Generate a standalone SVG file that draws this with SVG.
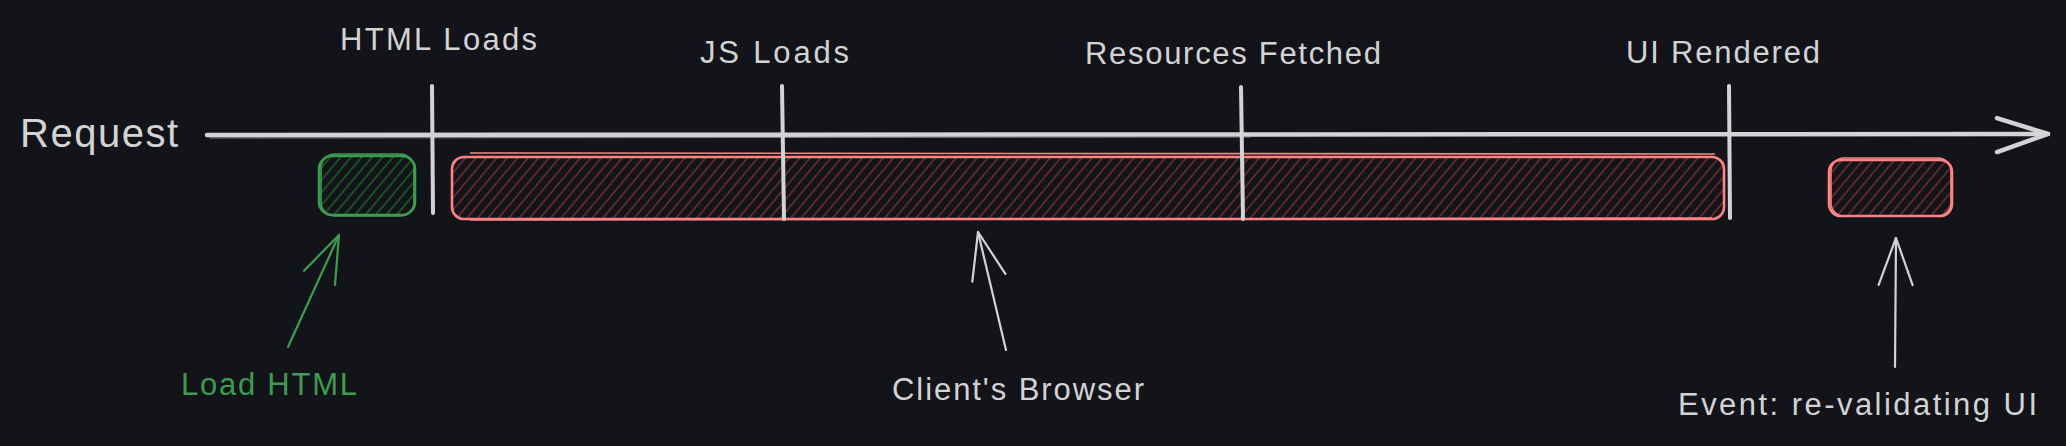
<svg xmlns="http://www.w3.org/2000/svg" width="2066" height="446" viewBox="0 0 2066 446">
  <defs>
    <pattern id="hatch-red" patternUnits="userSpaceOnUse" width="8" height="8" patternTransform="rotate(40)">
      <line x1="2" y1="0" x2="2" y2="8" stroke="#6a2e30" stroke-width="1.6"/>
    </pattern>
    <pattern id="hatch-green" patternUnits="userSpaceOnUse" width="8" height="8" patternTransform="rotate(40)">
      <line x1="2" y1="0" x2="2" y2="8" stroke="#1b5426" stroke-width="1.8"/>
    </pattern>
    <marker id="head-green" markerUnits="userSpaceOnUse" viewBox="-52 -22 56 44" markerWidth="56" markerHeight="44" refX="0" refY="0" orient="auto" overflow="visible">
      <path d="M -47 -17 L 0 0 L -47 17" fill="none" stroke="#3c9d4e" stroke-width="2.2" stroke-linecap="round" stroke-linejoin="round"/>
    </marker>
    <marker id="head-white" markerUnits="userSpaceOnUse" viewBox="-52 -22 56 44" markerWidth="56" markerHeight="44" refX="0" refY="0" orient="auto" overflow="visible">
      <path d="M -47 -17 L 0 0 L -47 17" fill="none" stroke="#d3d3d3" stroke-width="2.2" stroke-linecap="round" stroke-linejoin="round"/>
    </marker>
    <marker id="head-lg" markerUnits="userSpaceOnUse" viewBox="-56 -24 60 48" markerWidth="60" markerHeight="48" refX="0" refY="0" orient="auto" overflow="visible">
      <path d="M -51 -16 L 0 0 L -51 18" fill="none" stroke="#d3d3d3" stroke-width="4.5" stroke-linecap="round" stroke-linejoin="round"/>
    </marker>
  </defs>
  <style>
    .lbl { font-family: "Liberation Sans", "DejaVu Sans", sans-serif; font-size: 31px; fill: #d3d3d3; }
    .big { font-size: 40px; }
    .green-t { fill: #3c9d4e; }
    .tick { stroke: #d3d3d3; stroke-width: 4; stroke-linecap: round; fill: none; }
    .red-box { fill: url(#hatch-red); stroke: #ff8383; stroke-width: 2.6; }
    .red-box2 { fill: none; stroke: #ff8383; stroke-width: 1.6; }
    .green-box { fill: url(#hatch-green); stroke: #3c9d4e; stroke-width: 2.6; }
    .green-box2 { fill: none; stroke: #3c9d4e; stroke-width: 1.6; }
    .conn { fill: none; stroke-width: 2.2; stroke-linecap: round; }
  </style>
  <rect x="0" y="0" width="2066" height="446" fill="#121419"/>

  <g id="timeline">
    <path d="M 207 135 L 2048 134" fill="none" stroke="#d3d3d3" stroke-width="4.5" stroke-linecap="round" marker-end="url(#head-lg)"/>
    <path d="M 210 138 L 1250 137" fill="none" stroke="#a8a8a8" stroke-width="1.2" stroke-linecap="round" opacity="0.7"/>
    <text class="lbl big" x="20" y="147" textLength="158">Request</text>
  </g>

  <g id="box-load-html">
    <rect class="green-box" x="319" y="156" width="96" height="59" rx="13"/>
    <rect class="green-box2" x="321" y="154" width="93" height="62" rx="14"/>
  </g>
  <g id="box-client-browser">
    <rect class="red-box" x="452" y="157" width="1272" height="62" rx="12"/>
    <path class="red-box2" d="M 470 153 L 1715 154 M 470 220 L 1712 218"/>
  </g>
  <g id="box-revalidate">
    <rect class="red-box" x="1829" y="160" width="123" height="56" rx="12"/>
    <rect class="red-box2" x="1831" y="158" width="120" height="58" rx="13"/>
  </g>

  <g id="tick-html">
    <path class="tick" d="M 432 86 L 433 213"/>
    <text class="lbl" x="340" y="50" textLength="197">HTML Loads</text>
  </g>
  <g id="tick-js">
    <path class="tick" d="M 782 86 L 784 219"/>
    <text class="lbl" x="700" y="63" textLength="149">JS Loads</text>
  </g>
  <g id="tick-resources">
    <path class="tick" d="M 1241 87 L 1243 219"/>
    <text class="lbl" x="1085" y="64" textLength="296">Resources Fetched</text>
  </g>
  <g id="tick-ui">
    <path class="tick" d="M 1729 86 L 1730 218"/>
    <text class="lbl" x="1626" y="63" textLength="194">UI Rendered</text>
  </g>

  <g id="connectors">
    <path class="conn" d="M 288 347 L 339 235" stroke="#3c9d4e" marker-end="url(#head-green)"/>
    <path class="conn" d="M 1006 350 L 978 232" stroke="#d3d3d3" marker-end="url(#head-white)"/>
    <path class="conn" d="M 1895 367 L 1896 238" stroke="#d3d3d3" marker-end="url(#head-white)"/>
  </g>

  <g id="label-load-html">
    <text class="lbl green-t" x="181" y="395" textLength="176">Load HTML</text>
  </g>
  <g id="label-client-browser">
    <text class="lbl" x="892" y="400" textLength="252">Client's Browser</text>
  </g>
  <g id="label-event">
    <text class="lbl" x="1678" y="415" textLength="359">Event: re-validating UI</text>
  </g>
</svg>
